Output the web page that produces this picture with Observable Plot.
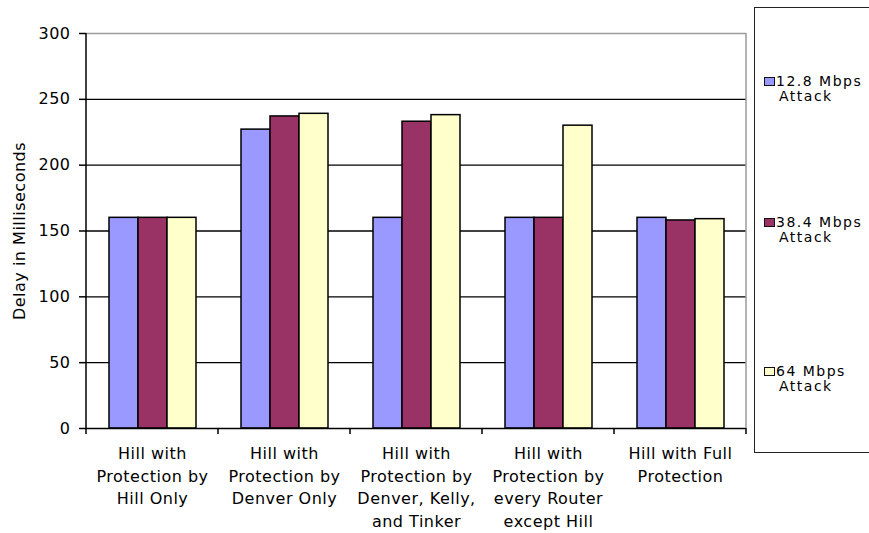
<!DOCTYPE html>
<html>
<head>
<meta charset="utf-8">
<script src="https://cdn.jsdelivr.net/npm/d3@7"></script>
<script src="https://cdn.jsdelivr.net/npm/@observablehq/plot@0.6"></script>
<style>
  html, body { margin: 0; padding: 0; background: #fff; }
  #wrap { position: relative; width: 869px; height: 533px; overflow: hidden; }
  #chart svg text { letter-spacing: 0.5px; }
  #legend {
    position: absolute; left: 754px; top: 7px; width: 130px; height: 446px;
    border: 1.5px solid #222; box-sizing: border-box; background: #fff;
    font-family: "DejaVu Sans", sans-serif; font-size: 14px; letter-spacing: 1.5px; color: #000;
  }
  .item { position: absolute; left: 0; width: 100%; line-height: 15px; }
  .sw { position: absolute; left: 9px; top: 3px; width: 9px; height: 7px; border: 1.5px solid #111; }
  .lab { position: absolute; left: 21px; white-space: nowrap; }
  .lab div, .lab span { display: block; height: 15px; }
  .lab span { padding-left: 3px; }
</style>
</head>
<body>
<div id="wrap">
  <div id="chart"></div>
  <div id="legend"></div>
</div>
<script>
// ---- data ----
const categories = [
  "Hill with Protection by Hill Only",
  "Hill with Protection by Denver Only",
  "Hill with Protection by Denver, Kelly, and Tinker",
  "Hill with Protection by every Router except Hill",
  "Hill with Full Protection"
];
const categoryLabels = [
  "Hill with\nProtection by\nHill Only",
  "Hill with\nProtection by\nDenver Only",
  "Hill with\nProtection by\nDenver, Kelly,\nand Tinker",
  "Hill with\nProtection by\nevery Router\nexcept Hill",
  "Hill with Full\nProtection"
];
const seriesNames = ["12.8 Mbps Attack", "38.4 Mbps Attack", "64 Mbps Attack"];
const seriesLegendLines = [["12.8 Mbps", "Attack"], ["38.4 Mbps", "Attack"], ["64 Mbps", "Attack"]];
const seriesColors = ["#9999FF", "#993366", "#FFFFCC"];
const values128 = [160, 227, 160, 160, 160];
const values384 = [160, 237, 233, 160, 158];
const values64  = [160, 239, 238, 230, 159];
const yTicks = [0, 50, 100, 150, 200, 250, 300];
const yLabel = "Delay in Milliseconds";

const seriesValues = [values128, values384, values64];
const data = categories.flatMap((c, i) =>
  seriesNames.map((s, j) => ({category: c, series: s, value: seriesValues[j][i]})));
const labelRows = categories.map((c, i) => ({category: c, label: categoryLabels[i]}));

const plot = Plot.plot({
  width: 869,
  height: 533,
  marginLeft: 86,
  marginRight: 123,
  marginTop: 33,
  marginBottom: 105,
  style: {fontFamily: "DejaVu Sans, sans-serif", fontSize: "16px", color: "#000", background: "#fff", overflow: "visible"},
  fx: {domain: categories, padding: 0, axis: null},
  x: {domain: seriesNames, paddingInner: 0, paddingOuter: 0.75, axis: null},
  y: {domain: [0, 300], axis: null},
  color: {domain: seriesNames, range: seriesColors},
  marks: [
    Plot.gridY(yTicks.filter(t => t > 0 && t < 300), {stroke: "#000", strokeOpacity: 1, strokeWidth: 1.4}),
    Plot.ruleY([300], {stroke: "#9a9a9a", strokeWidth: 1.4}),
    Plot.barY(data, {fx: "category", x: "series", y: "value", fill: "series", stroke: "#000", strokeWidth: 1.5}),
    Plot.ruleY([0], {stroke: "#000", strokeWidth: 1.5}),
    Plot.axisY(yTicks, {
      anchor: "left", tickSize: 7, tickPadding: 9, strokeWidth: 1.5, fontSize: 16,
      label: yLabel, labelAnchor: "center", labelArrow: "none", labelOffset: 73
    }),
    Plot.text(labelRows, {
      fx: "category", text: "label", frameAnchor: "bottom", lineAnchor: "top",
      dy: 15, lineHeight: 1.4, fontSize: 16
    })
  ]
});
document.getElementById("chart").appendChild(plot);

// axis line, right border and category boundary ticks, from Plot's own scales
const fxScale = plot.scale("fx");
const yScale = plot.scale("y");
const band = d3.scaleBand(fxScale.domain, fxScale.range).padding(0);
const [x0, x1] = fxScale.range;
const yBottom = Math.max(...yScale.range), yTop = Math.min(...yScale.range);
const g = d3.select(plot).append("g").attr("stroke-width", 1.5);
g.append("line").attr("x1", x1).attr("x2", x1).attr("y1", yTop).attr("y2", yBottom).attr("stroke", "#9a9a9a");
g.append("line").attr("x1", x0).attr("x2", x0).attr("y1", yTop).attr("y2", yBottom).attr("stroke", "#000");
const bounds = categories.map(c => band(c)).concat([x1]);
g.selectAll("line.bt").data(bounds).join("line").attr("class", "bt")
  .attr("x1", d => d).attr("x2", d => d).attr("y1", yBottom).attr("y2", yBottom + 6).attr("stroke", "#000");

// legend
const legend = d3.select("#legend");
const itemTops = [66, 207, 356];
seriesNames.forEach((s, i) => {
  const it = legend.append("div").attr("class", "item").style("top", itemTops[i] + "px");
  it.append("div").attr("class", "sw").style("background", seriesColors[i]);
  const lab = it.append("div").attr("class", "lab");
  lab.append("div").text(seriesLegendLines[i][0]);
  lab.append("span").text(seriesLegendLines[i][1]);
});
</script>
</body>
</html>
